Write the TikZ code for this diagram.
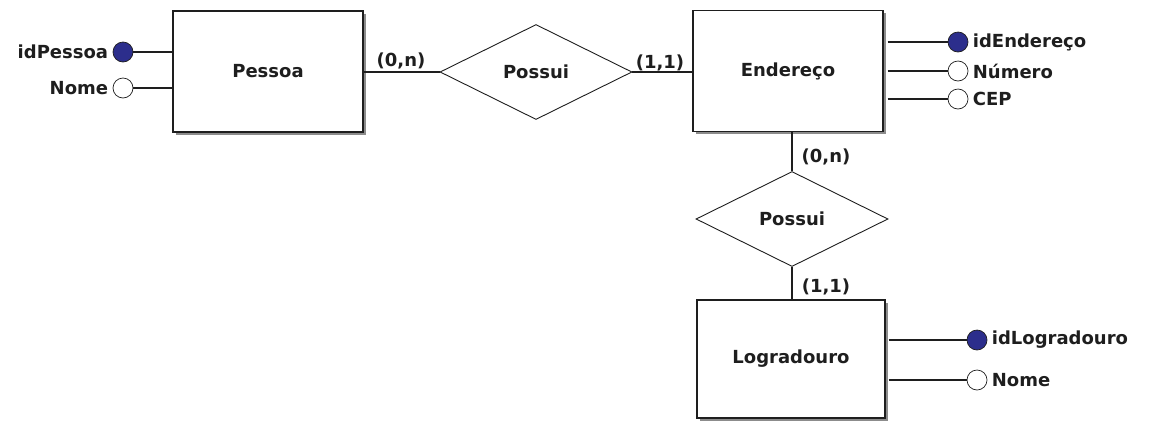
\documentclass[tikz,border=0pt]{standalone}
\usepackage{fontspec}
\setmainfont{DejaVu Sans}
\usetikzlibrary{shapes.geometric,shadows}
\definecolor{keyblue}{RGB}{44,46,140}
\definecolor{ink}{RGB}{30,30,30}

\begin{document}
\begin{tikzpicture}[x=1pt,y=-1pt,
  font=\fontsize{18}{21}\selectfont\bfseries,text=ink,
  entity/.style={draw=ink,line width=1.3pt,fill=white,
    minimum width=190pt,minimum height=121pt,
    drop shadow={shadow xshift=2.5pt,shadow yshift=-2.5pt,fill=black,opacity=0.45}},
  relation/.style={diamond,draw=ink,line width=0.9pt,fill=white,
    minimum width=192pt,minimum height=95pt,inner sep=0pt},
  pkey/.style={circle,draw=ink,line width=0.7pt,fill=keyblue,minimum size=20pt,inner sep=0pt},
  attr/.style={circle,draw=ink,line width=0.7pt,fill=white,minimum size=20pt,inner sep=0pt},
  card/.style={inner sep=0pt},
  link/.style={draw=ink,line width=1.2pt}]

\useasboundingbox (0,0) rectangle (1150,421);

% entities and relations
\node[entity] (pessoa) at (268,71.5) {Pessoa};
\node[entity] (endereco) at (788,71) {Endereço};
\node[entity,minimum width=188pt,minimum height=118pt] (logradouro) at (791,359) {Logradouro};

\node[relation] (possui1) at (536,72) {Possui};
\node[relation] (possui2) at (792,219) {Possui};

\draw[link] (pessoa.east |- possui1.west) -- (possui1.west);
\draw[link] (possui1.east) -- (possui1.east -| endereco.west);
\draw[link] (endereco.south -| possui2.north) -- (possui2.north);
\draw[link] (possui2.south) -- (possui2.south |- logradouro.north);

\node[card] (card1) at (401,61) {(0,n)};
\node[card] (card2) at (660,63) {(1,1)};
\node[card] (card3) at (826,157) {(0,n)};
\node[card] (card4) at (826,287) {(1,1)};

% attributes of Pessoa
\node[pkey,label={[label distance=1pt]left:idPessoa}] (idpessoa) at (123,52) {};
\node[attr,label={[label distance=1pt]left:Nome}] (nomepessoa) at (123,88) {};
\draw[link] (idpessoa) -- (idpessoa -| pessoa.west);
\draw[link] (nomepessoa) -- (nomepessoa -| pessoa.west);

% attributes of Endereco
\node[pkey,label={[label distance=1pt]right:idEndereço}] (idendereco) at (958,42) {};
\node[attr,label={[label distance=1pt]right:Número}] (numero) at (958,71) {};
\node[attr,label={[label distance=1pt]right:CEP}] (cep) at (958,99) {};
\foreach \a in {idendereco,numero,cep}
  \draw[link] (\a -| endereco.east) ++(4,0) -- (\a);

% attributes of Logradouro
\node[pkey,label={[label distance=1pt]right:idLogradouro}] (idlogradouro) at (977,340) {};
\node[attr,label={[label distance=1pt]right:Nome}] (nomelogradouro) at (977,380) {};
\foreach \a in {idlogradouro,nomelogradouro}
  \draw[link] (\a -| logradouro.east) ++(3,0) -- (\a);

\end{tikzpicture}
\end{document}
